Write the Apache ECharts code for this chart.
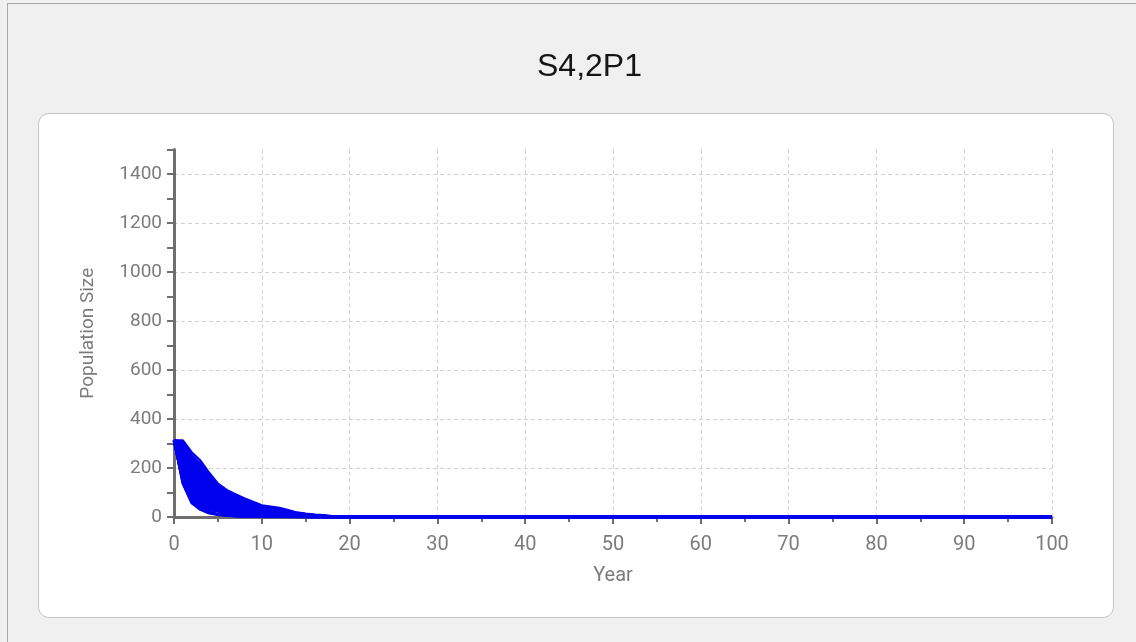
<!DOCTYPE html>
<html>
<head>
<meta charset="utf-8">
<script src="https://cdn.jsdelivr.net/npm/echarts@6/dist/echarts.min.js"></script>
<style>
  html, body { margin: 0; padding: 0; background: #f0f0f0; }
  .frame { position: absolute; left: 7px; top: 3px; width: 1129px; height: 639px;
    border-top: 1px solid #a8a8a8; border-left: 1px solid #a8a8a8; background: #f0f0f0; }
  .panel { position: absolute; left: 38px; top: 113px; width: 1074px; height: 503px;
    background: #fff; border: 1px solid #c6c6c6; border-radius: 11px; }
  #chart { position: absolute; left: 0; top: 0; width: 1136px; height: 642px; }
</style>
</head>
<body>
<div class="frame"></div>
<div class="panel"></div>
<div id="chart"></div>
<script>
    // years of each run (the runs sit at 0 from year 19 on, so 100 closes the line)
    var years = [0, 1, 2, 3, 4, 5, 6, 7, 8, 9, 10, 11, 12, 13, 14, 15, 16, 17, 18, 19, 100];

    // simulated population trajectories
    var runs = [
        [312, 312, 264, 230, 180, 136, 110, 92, 76, 62, 47, 42, 37, 28, 18, 13, 9, 7, 3, 0, 0],
        [312, 308, 252, 216, 172, 131, 104, 89, 73, 59, 44, 40, 35, 25, 16, 11, 8, 5, 2, 0, 0],
        [312, 304, 246, 210, 165, 128, 101, 85, 70, 55, 43, 37, 32, 23, 15, 10, 7, 5, 2, 0, 0],
        [312, 300, 242, 203, 158, 124, 99, 79, 67, 51, 42, 34, 30, 22, 13, 10, 7, 4, 1, 0, 0],
        [312, 296, 236, 200, 155, 118, 96, 78, 64, 51, 40, 33, 28, 20, 13, 9, 6, 4, 1, 0, 0],
        [312, 292, 230, 197, 152, 113, 93, 77, 61, 50, 37, 33, 26, 19, 12, 8, 6, 3, 1, 0, 0],
        [312, 288, 228, 188, 146, 112, 90, 73, 60, 47, 37, 31, 25, 18, 12, 8, 5, 3, 1, 0, 0],
        [312, 284, 224, 180, 142, 110, 92, 70, 58, 44, 36, 29, 25, 18, 11, 8, 5, 3, 1, 0, 0],
        [312, 280, 214, 176, 136, 104, 84, 68, 55, 44, 34, 28, 23, 17, 10, 7, 5, 2, 0, 0, 0],
        [312, 276, 208, 172, 130, 101, 79, 66, 52, 43, 32, 27, 21, 16, 10, 6, 4, 2, 0, 0, 0],
        [312, 273, 205, 164, 128, 97, 78, 62, 52, 40, 31, 25, 21, 14, 9, 6, 4, 2, 0, 0, 0],
        [312, 270, 202, 158, 126, 93, 77, 60, 51, 38, 31, 24, 20, 13, 9, 6, 3, 2, 0, 0, 0],
        [312, 264, 194, 155, 118, 92, 72, 59, 47, 38, 29, 23, 18, 13, 8, 5, 3, 1, 0, 0, 0],
        [312, 259, 188, 152, 114, 90, 69, 58, 45, 37, 27, 23, 17, 13, 8, 5, 3, 1, 0, 0, 0],
        [312, 255, 186, 144, 112, 84, 68, 54, 44, 34, 27, 21, 17, 12, 7, 4, 2, 1, 0, 0, 0],
        [312, 252, 182, 138, 110, 80, 66, 51, 43, 32, 26, 20, 16, 11, 6, 4, 2, 1, 0, 0, 0],
        [312, 246, 174, 136, 103, 79, 62, 50, 40, 31, 24, 19, 14, 10, 6, 4, 2, 0, 0, 0, 0],
        [312, 240, 168, 134, 98, 77, 59, 49, 37, 31, 22, 18, 13, 10, 6, 3, 2, 0, 0, 0, 0],
        [312, 237, 165, 126, 96, 72, 57, 46, 37, 28, 22, 16, 13, 9, 5, 3, 1, 0, 0, 0, 0],
        [312, 234, 162, 120, 94, 69, 56, 43, 36, 26, 21, 15, 12, 8, 5, 3, 1, 0, 0, 0, 0],
        [312, 228, 154, 118, 88, 67, 52, 42, 33, 26, 19, 15, 11, 8, 4, 2, 1, 0, 0, 0, 0],
        [312, 222, 148, 116, 83, 65, 49, 41, 30, 25, 17, 14, 10, 7, 4, 2, 1, 0, 0, 0, 0],
        [312, 219, 146, 108, 82, 60, 48, 37, 30, 22, 17, 12, 10, 6, 3, 2, 0, 0, 0, 0, 0],
        [312, 216, 142, 102, 80, 57, 46, 35, 29, 20, 16, 11, 9, 5, 3, 2, 0, 0, 0, 0, 0],
        [312, 210, 134, 100, 74, 56, 43, 34, 26, 20, 14, 10, 8, 5, 2, 1, 0, 0, 0, 0, 0],
        [312, 204, 128, 98, 70, 54, 40, 33, 24, 19, 13, 10, 7, 5, 2, 1, 0, 0, 0, 0, 0],
        [312, 201, 126, 91, 68, 50, 39, 29, 24, 16, 13, 9, 7, 4, 2, 1, 0, 0, 0, 0, 0],
        [312, 198, 122, 86, 66, 47, 38, 27, 23, 15, 12, 8, 6, 3, 2, 1, 0, 0, 0, 0, 0],
        [312, 190, 114, 84, 60, 46, 34, 27, 20, 15, 10, 8, 5, 3, 1, 0, 0, 0, 0, 0, 0],
        [312, 185, 108, 82, 57, 44, 32, 26, 18, 14, 9, 7, 4, 3, 1, 0, 0, 0, 0, 0, 0],
        [312, 181, 105, 74, 55, 40, 31, 22, 18, 12, 9, 6, 4, 2, 1, 0, 0, 0, 0, 0, 0],
        [312, 178, 102, 68, 52, 37, 29, 20, 17, 11, 8, 5, 4, 2, 1, 0, 0, 0, 0, 0, 0],
        [312, 170, 94, 66, 47, 36, 25, 20, 14, 11, 7, 5, 3, 2, 0, 0, 0, 0, 0, 0, 0],
        [312, 164, 88, 64, 44, 34, 23, 19, 12, 10, 6, 5, 2, 2, 0, 0, 0, 0, 0, 0, 0],
        [312, 160, 84, 56, 41, 29, 22, 16, 12, 8, 5, 4, 2, 1, 0, 0, 0, 0, 0, 0, 0],
        [312, 157, 80, 50, 38, 26, 21, 14, 11, 7, 5, 3, 2, 1, 0, 0, 0, 0, 0, 0, 0],
        [312, 150, 72, 46, 32, 24, 17, 13, 9, 6, 4, 3, 1, 0, 0, 0, 0, 0, 0, 0, 0],
        [312, 144, 64, 44, 28, 22, 14, 12, 7, 6, 3, 3, 1, 0, 0, 0, 0, 0, 0, 0, 0],
        [312, 150, 72, 35, 21, 11, 9, 4, 3, 2, 1, 0, 0, 0, 0, 0, 0, 0, 0, 0, 0],
        [312, 140, 62, 33, 18, 10, 7, 4, 2, 1, 0, 0, 0, 0, 0, 0, 0, 0, 0, 0, 0],
        [312, 137, 57, 30, 15, 9, 5, 3, 2, 1, 0, 0, 0, 0, 0, 0, 0, 0, 0, 0, 0]
    ];

    var lineColor = '#0000ee';
    var axisColor = '#6e6e6e';
    var labelColor = '#7c7c7c';

    var series = runs.map(function (run) {
        return {
            type: 'line',
            symbol: 'none',
            silent: true,
            lineStyle: {color: lineColor, width: 2.5},
            data: years.map(function (y, i) { return [y, run[i]]; })
        };
    });

    var chart = echarts.init(document.getElementById('chart'));
    chart.setOption({
        animation: false,
        backgroundColor: 'transparent',
        title: {
            text: 'S4,2P1',
            left: 532,
            top: 46,
            textStyle: {
                fontFamily: 'Liberation Sans',
                fontSize: 32,
                fontWeight: 'normal',
                color: '#151515'
            }
        },
        grid: {
            left: 174,
            right: 84,
            top: 149.5,
            bottom: 125
        },
        xAxis: {
            type: 'value',
            min: 0,
            max: 100,
            interval: 10,
            name: 'Year',
            nameLocation: 'middle',
            nameGap: 49,
            nameTextStyle: {fontFamily: 'Roboto', fontSize: 20, color: labelColor},
            axisLine: {lineStyle: {color: axisColor, width: 3}},
            axisTick: {length: 7, lineStyle: {color: axisColor, width: 2}},
            minorTick: {show: true, splitNumber: 2, length: 5, lineStyle: {color: axisColor, width: 2}},
            axisLabel: {margin: 18, fontFamily: 'Roboto', fontSize: 20, color: labelColor},
            splitLine: {show: true, lineStyle: {color: '#d2d2d2', width: 1, type: [4, 3]}}
        },
        yAxis: {
            type: 'value',
            min: 0,
            max: 1500,
            interval: 100,
            name: 'Population Size',
            nameLocation: 'middle',
            nameGap: 76,
            nameTextStyle: {fontFamily: 'Roboto', fontSize: 19, color: labelColor},
            axisLine: {show: true, lineStyle: {color: axisColor, width: 3}},
            axisTick: {show: true, length: 7, lineStyle: {color: axisColor, width: 2}},
            axisLabel: {
                margin: 12,
                fontFamily: 'Roboto',
                fontSize: 19,
                color: labelColor,
                formatter: function (v) { return v % 200 === 0 ? v : ''; }
            },
            // only every other line (the 200s) is drawn
            splitLine: {show: true, lineStyle: {color: ['#d2d2d2', 'transparent'], width: 1, type: [4, 3]}}
        },
        series: series
    });
</script>
</body>
</html>
